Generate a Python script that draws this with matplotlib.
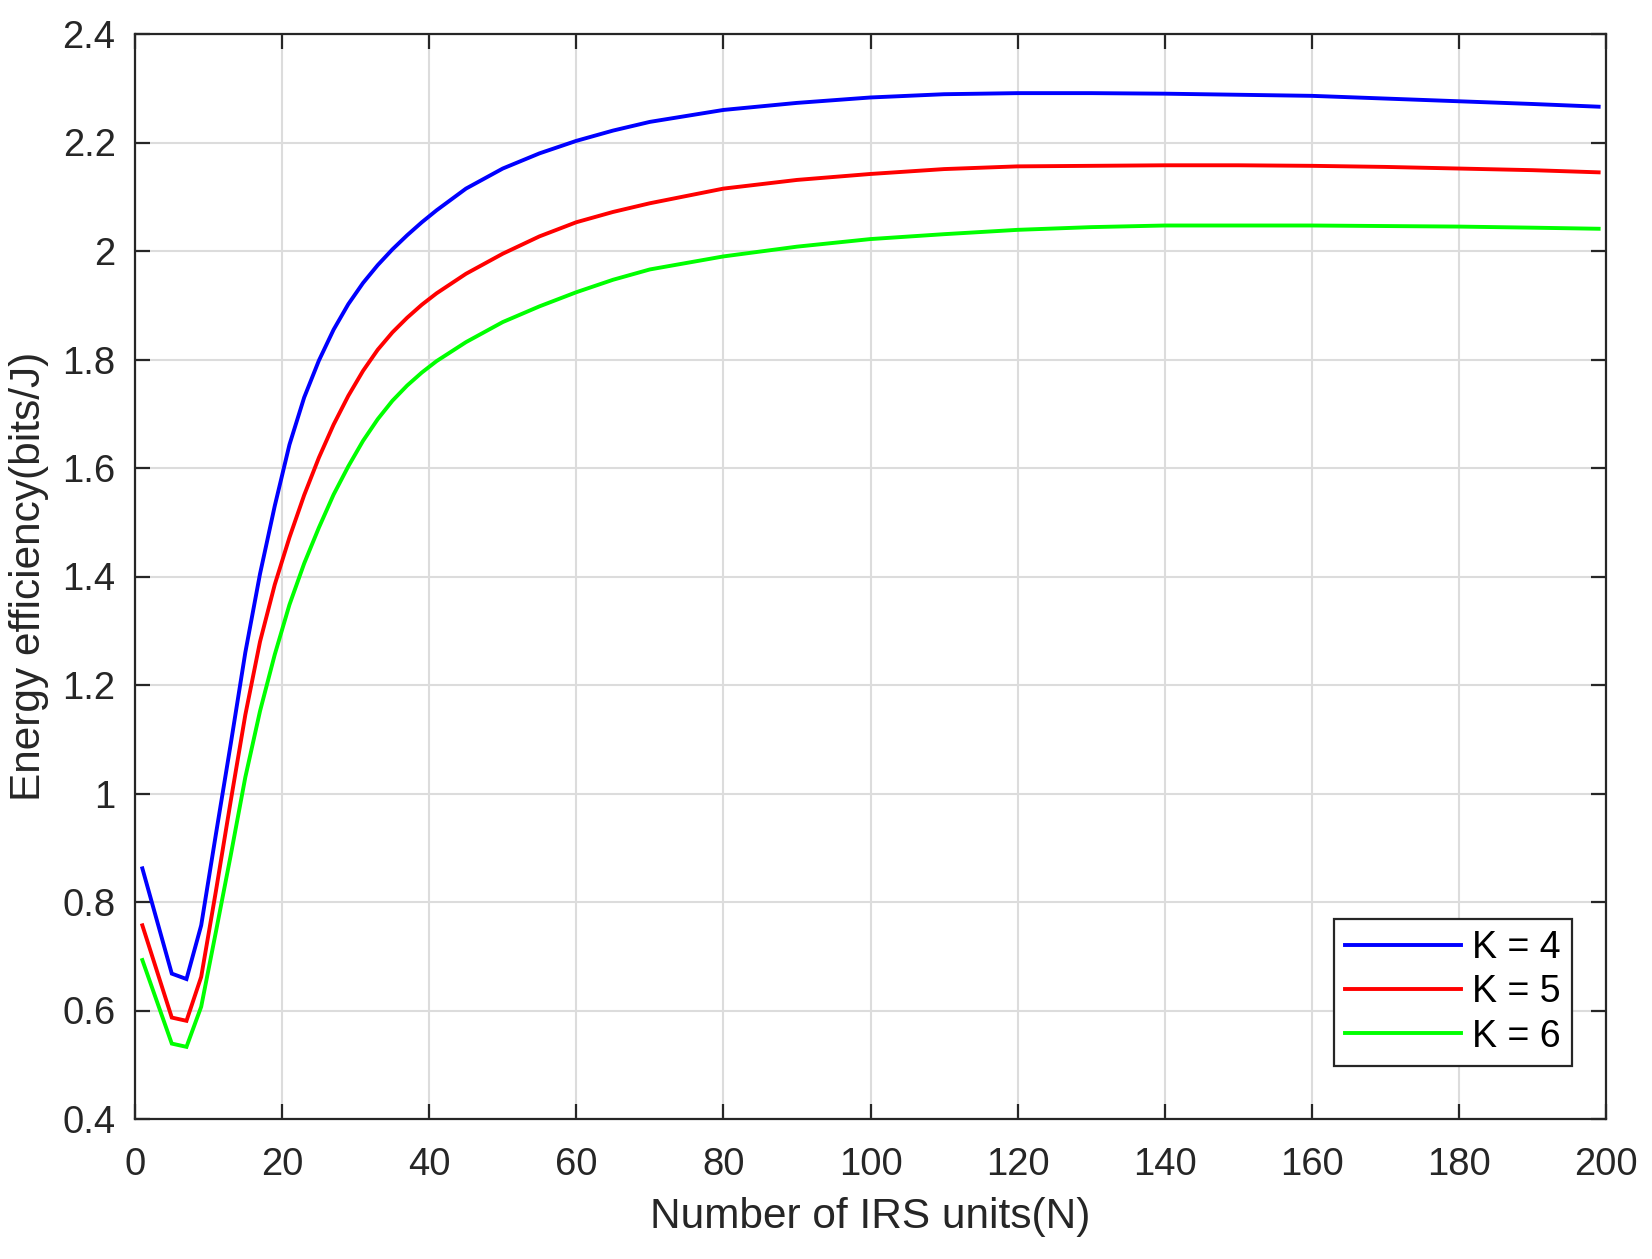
import matplotlib
matplotlib.use("Agg")
import matplotlib.pyplot as plt
from matplotlib.ticker import FuncFormatter

plt.rcParams['font.family'] = ['Liberation Sans', 'DejaVu Sans']

# Number of IRS units
N = [1, 5, 7, 9, 11, 13, 15, 17, 19, 21, 23, 25, 27, 29, 31, 33, 35, 37, 39, 41,
     45, 50, 55, 60, 65, 70, 80, 90, 100, 110, 120, 130, 140, 150, 160, 170, 180, 190, 199]

ee_k4 = [0.862, 0.668, 0.658, 0.757, 0.925, 1.090, 1.260, 1.405, 1.530, 1.643, 1.730, 1.798,
         1.855, 1.902, 1.941, 1.974, 2.003, 2.029, 2.053, 2.075,
         2.115, 2.152, 2.180, 2.203, 2.222, 2.238, 2.260, 2.273, 2.283, 2.289, 2.291, 2.291,
         2.290, 2.288, 2.286, 2.281, 2.276, 2.271, 2.266]

ee_k5 = [0.757, 0.587, 0.581, 0.662, 0.820, 0.985, 1.145, 1.280, 1.385, 1.472, 1.550, 1.619,
         1.680, 1.733, 1.779, 1.818, 1.850, 1.877, 1.901, 1.922,
         1.958, 1.995, 2.027, 2.053, 2.072, 2.088, 2.115, 2.131, 2.142, 2.151, 2.156, 2.157,
         2.158, 2.158, 2.157, 2.155, 2.152, 2.149, 2.145]

ee_k6 = [0.693, 0.539, 0.533, 0.607, 0.745, 0.885, 1.030, 1.152, 1.256, 1.348, 1.424, 1.490,
         1.551, 1.603, 1.650, 1.690, 1.724, 1.752, 1.776, 1.797,
         1.832, 1.869, 1.898, 1.924, 1.947, 1.966, 1.990, 2.008, 2.022, 2.031, 2.039, 2.044,
         2.047, 2.047, 2.047, 2.046, 2.045, 2.043, 2.041]

labels = ['K = 4', 'K = 5', 'K = 6']
colors = ['#0000ff', '#ff0000', '#00ff00']

x_ticks = [0, 20, 40, 60, 80, 100, 120, 140, 160, 180, 200]
y_ticks = [0.4, 0.6, 0.8, 1.0, 1.2, 1.4, 1.6, 1.8, 2.0, 2.2, 2.4]

fig = plt.figure(figsize=(16.52, 12.59), dpi=100)
ax = fig.add_axes([135/1652, 1 - 1119/1259, (1606-135)/1652, (1119-34)/1259])

for y, lab, c in zip([ee_k4, ee_k5, ee_k6], labels, colors):
    ax.plot(N, y, color=c, lw=2.8, label=lab, solid_joinstyle='miter')

ax.set_xlim(0, 200)
ax.set_ylim(0.4, 2.4)
ax.set_xticks(x_ticks)
ax.set_yticks(y_ticks)
ax.yaxis.set_major_formatter(FuncFormatter(lambda v, p: '%g' % round(v, 2)))

ax.grid(True, color='#dcdcdc', lw=1.5)
ax.set_axisbelow(True)
for s in ax.spines.values():
    s.set_linewidth(1.6)
    s.set_color('#262626')
ax.tick_params(direction='in', length=11, width=1.6, color='#262626',
               labelsize=27.5, labelcolor='#262626', top=True, right=True)
ax.tick_params(axis='x', pad=20)
ax.tick_params(axis='y', pad=14)

ax.set_xlabel('Number of IRS units(N)', fontsize=30.5, color='#262626', labelpad=10)
ax.set_ylabel('Energy efficiency(bits/J)', fontsize=30.5, color='#262626', labelpad=10)

leg = ax.legend(loc='lower right', bbox_to_anchor=(0.977, 0.049), borderaxespad=0,
                fontsize=27, fancybox=False, edgecolor='#262626', framealpha=1,
                handlelength=3.1, handletextpad=0.3, labelspacing=0.22,
                borderpad=0.3)
leg.get_frame().set_linewidth(1.6)

fig.savefig('out.png', dpi=100)
